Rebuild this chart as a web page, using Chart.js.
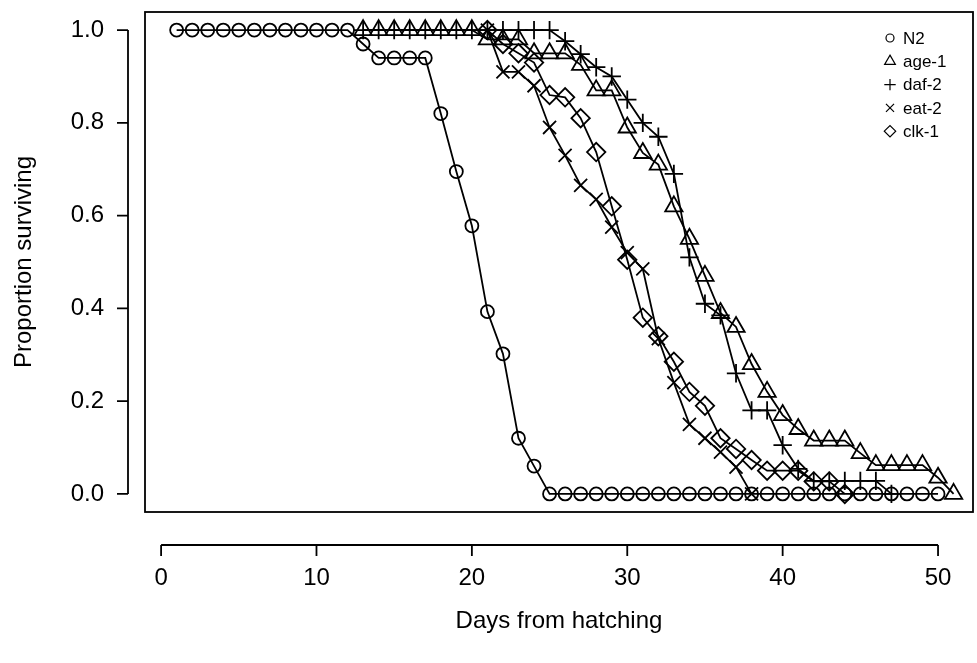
<!DOCTYPE html>
<html>
<head>
<meta charset="utf-8">
<script src="https://cdn.jsdelivr.net/npm/chart.js@4/dist/chart.umd.min.js"></script>
<style>
  html, body { margin: 0; padding: 0; background: #fff; }
  #wrap { width: 977px; height: 663px; }
</style>
</head>
<body>
<div id="wrap"><canvas id="survChart" width="977" height="663"></canvas></div>
<script>
// survival data (day, proportion surviving)
const n2Days = [1, 2, 3, 4, 5, 6, 7, 8, 9, 10, 11, 12, 13, 14, 15, 16, 17, 18, 19, 20, 21, 22, 23, 24, 25, 26, 27, 28, 29, 30, 31, 32, 33, 34, 35, 36, 37, 38, 39, 40, 41, 42, 43, 44, 45, 46, 47, 48, 49, 50]
const n2Surv = [1, 1, 1, 1, 1, 1, 1, 1, 1, 1, 1, 1, 0.97, 0.94, 0.94, 0.94, 0.94, 0.82, 0.695, 0.578, 0.393, 0.302, 0.12, 0.06, 0, 0, 0, 0, 0, 0, 0, 0, 0, 0, 0, 0, 0, 0, 0, 0, 0, 0, 0, 0, 0, 0, 0, 0, 0, 0]

const age1Days = [13, 14, 15, 16, 17, 18, 19, 20, 21, 22, 23, 24, 25, 26, 27, 28, 29, 30, 31, 32, 33, 34, 35, 36, 37, 38, 39, 40, 41, 42, 43, 44, 45, 46, 47, 48, 49, 50, 51]
const age1Surv = [1, 1, 1, 1, 1, 1, 1, 1, 0.98, 0.98, 0.98, 0.95, 0.95, 0.95, 0.925, 0.87, 0.87, 0.79, 0.735, 0.71, 0.62, 0.55, 0.47, 0.39, 0.36, 0.28, 0.22, 0.17, 0.14, 0.115, 0.115, 0.115, 0.088, 0.062, 0.062, 0.062, 0.062, 0.035, 0]

const daf2Days = [13, 14, 15, 16, 17, 18, 19, 20, 21, 22, 23, 24, 25, 26, 27, 28, 29, 30, 31, 32, 33, 34, 35, 36, 37, 38, 39, 40, 41, 42, 43, 44, 45, 46, 47]
const daf2Surv = [1, 1, 1, 1, 1, 1, 1, 1, 1, 1, 1, 1, 1, 0.976, 0.948, 0.92, 0.9, 0.85, 0.8, 0.77, 0.69, 0.51, 0.41, 0.385, 0.26, 0.18, 0.18, 0.105, 0.054, 0.028, 0.028, 0.028, 0.028, 0.028, 0]

const eat2Days = [21, 22, 23, 24, 25, 26, 27, 28, 29, 30, 31, 32, 33, 34, 35, 36, 37, 38]
const eat2Surv = [1, 0.91, 0.91, 0.88, 0.79, 0.73, 0.665, 0.635, 0.575, 0.52, 0.485, 0.335, 0.24, 0.15, 0.12, 0.09, 0.058, 0]

const clk1Days = [21, 22, 23, 24, 25, 26, 27, 28, 29, 30, 31, 32, 33, 34, 35, 36, 37, 38, 39, 40, 41, 42, 43, 44]
const clk1Surv = [1, 0.97, 0.95, 0.93, 0.86, 0.855, 0.81, 0.737, 0.62, 0.505, 0.38, 0.34, 0.285, 0.22, 0.19, 0.12, 0.097, 0.073, 0.05, 0.05, 0.05, 0.027, 0.027, 0]

const strainNames = ['N2', 'age-1', 'daf-2', 'eat-2', 'clk-1']
const xTicks = [0, 10, 20, 30, 40, 50]
const yTicks = [0, 0.2, 0.4, 0.6, 0.8, 1.0]
const yTickLabels = ['0.0', '0.2', '0.4', '0.6', '0.8', '1.0']

const FONT = '"Liberation Sans", Arial, sans-serif'

const toPoints = (days, surv) => days.map((d, i) => ({ x: d, y: surv[i] }))

// R-ish marker sizes: circle radius r, others scaled like R's pch glyphs
const makeSet = function (label, days, surv, style, radius) {
    return {
        label: label,
        data: toPoints(days, surv),
        showLine: true,
        borderColor: '#000',
        borderWidth: 1.8,
        pointStyle: style,
        pointRadius: radius,
        pointHoverRadius: radius,
        pointBorderColor: '#000',
        pointBackgroundColor: 'rgba(0,0,0,0)',
        pointBorderWidth: 1.8,
        tension: 0
    }
}

const legendSizes = { circle: 4, triangle: 6.2, cross: 5.7, crossRot: 5.7, rectRot: 5.7 }

// box, offset axes and legend drawn the way R's base graphics does it
const rStyle = {
    id: 'rStyle',
    afterDraw(chart) {
        const ctx = chart.ctx
        const a = chart.chartArea
        const xs = chart.scales.x
        const ys = chart.scales.y
        ctx.save()
        ctx.strokeStyle = '#000'
        ctx.fillStyle = '#000'
        ctx.lineWidth = 1.8
        ctx.strokeRect(a.left, a.top, a.right - a.left, a.bottom - a.top)

        // x axis below the box
        const axY = a.bottom + 33
        ctx.beginPath()
        ctx.moveTo(xs.getPixelForValue(xTicks[0]), axY)
        ctx.lineTo(xs.getPixelForValue(xTicks[xTicks.length - 1]), axY)
        xTicks.forEach(t => {
            const px = xs.getPixelForValue(t)
            ctx.moveTo(px, axY)
            ctx.lineTo(px, axY + 11)
        })
        ctx.stroke()
        ctx.font = '24px ' + FONT
        ctx.textAlign = 'center'
        ctx.textBaseline = 'middle'
        xTicks.forEach(t => ctx.fillText(String(t), xs.getPixelForValue(t), axY + 33))

        // y axis left of the box
        const axX = a.left - 17
        ctx.beginPath()
        ctx.moveTo(axX, ys.getPixelForValue(yTicks[0]))
        ctx.lineTo(axX, ys.getPixelForValue(yTicks[yTicks.length - 1]))
        yTicks.forEach(t => {
            const py = ys.getPixelForValue(t)
            ctx.moveTo(axX, py)
            ctx.lineTo(axX - 11, py)
        })
        ctx.stroke()
        ctx.textAlign = 'right'
        yTicks.forEach((t, i) => ctx.fillText(yTickLabels[i], axX - 24, ys.getPixelForValue(t)))

        // axis titles centred on the plot region
        ctx.textAlign = 'center'
        ctx.fillText('Days from hatching', (a.left + a.right) / 2, 621)
        ctx.save()
        ctx.translate(24, (a.top + a.bottom) / 2)
        ctx.rotate(-Math.PI / 2)
        ctx.fillText('Proportion surviving', 0, 0)
        ctx.restore()

        // legend, top right inside the box (hollow symbols)
        ctx.font = '17px ' + FONT
        ctx.textAlign = 'left'
        chart.data.datasets.forEach((ds, i) => {
            const ly = 38 + i * 23.3
            ctx.fillStyle = 'rgba(0,0,0,0)'
            ctx.strokeStyle = '#000'
            ctx.lineWidth = 1.2
            Chart.helpers.drawPoint(ctx, {
                pointStyle: ds.pointStyle,
                radius: legendSizes[ds.pointStyle],
                borderWidth: 1.2
            }, 890, ly)
            ctx.fillStyle = '#000'
            ctx.fillText(ds.label, 903, ly + 1)
        })
        ctx.restore()
    }
}

new Chart(document.getElementById('survChart'), {
    type: 'scatter',
    data: {
        datasets: [
            makeSet(strainNames[0], n2Days, n2Surv, 'circle', 6.5),
            makeSet(strainNames[1], age1Days, age1Surv, 'triangle', 10),
            makeSet(strainNames[2], daf2Days, daf2Surv, 'cross', 9.2),
            makeSet(strainNames[3], eat2Days, eat2Surv, 'crossRot', 9.2),
            makeSet(strainNames[4], clk1Days, clk1Surv, 'rectRot', 9.2)
        ]
    },
    options: {
        responsive: false,
        animation: false,
        layout: { autoPadding: false, padding: { left: 145, right: 4, top: 12, bottom: 151 } },
        scales: {
            x: { type: 'linear', min: -1.036, max: 52.25, display: false },
            y: { type: 'linear', min: -0.039, max: 1.039, display: false }
        },
        plugins: {
            legend: { display: false },
            tooltip: { enabled: false }
        }
    },
    plugins: [rStyle]
})
</script>
</body>
</html>
